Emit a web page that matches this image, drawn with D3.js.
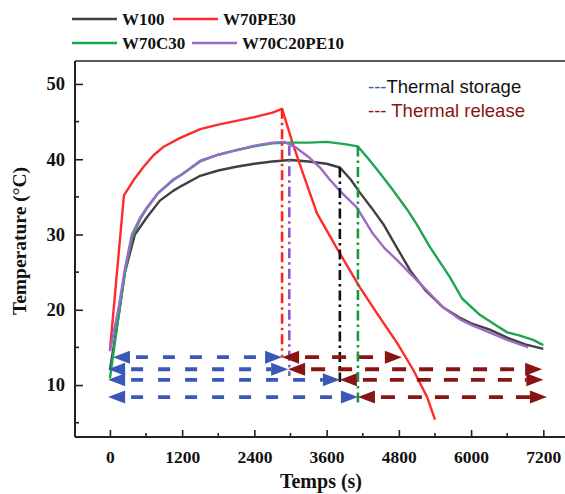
<!DOCTYPE html>
<html><head><meta charset="utf-8">
<script src="https://cdn.jsdelivr.net/npm/d3@7"></script>
<style>body{margin:0;background:#fff}svg{display:block}</style>
</head><body>
<script>
// ---- data ----
const seriesNames = ["W100", "W70PE30", "W70C30", "W70C20PE10"];
const seriesColors = ["#404040", "#ff2a2a", "#1fa552", "#9a6cc8"];
const w100 = [[0,12.0],[150,19.5],[250,25],[415,30],[615,32.3],[830,34.5],[1050,35.8],[1200,36.5],[1500,37.8],[1800,38.5],[2100,39.0],[2400,39.4],[2700,39.7],[3000,39.9],[3300,39.7],[3600,39.4],[3820,38.9],[4000,37.3],[4150,35.6],[4350,33.5],[4540,31.4],[4750,28.5],[4990,25.2],[5250,22.5],[5540,20.3],[5800,19.0],[6000,18.2],[6300,17.4],[6600,16.3],[6900,15.4],[7200,14.8]];
const w70pe30 = [[0,14.6],[233,35.2],[400,37.3],[560,39.0],[720,40.5],[900,41.7],[1160,42.8],[1500,44.0],[1800,44.6],[2100,45.1],[2400,45.6],[2700,46.2],[2860,46.7],[3040,42.0],[3200,38.3],[3440,32.8],[3790,27.9],[4150,23.0],[4440,19.5],[4770,15.6],[5040,12.0],[5270,8.4],[5400,5.4]];
const w70c30 = [[0,10.9],[150,19.5],[250,25],[365,29.5],[500,32],[615,33.5],[800,35.5],[1050,37.3],[1200,38.0],[1500,39.7],[1800,40.6],[2100,41.2],[2400,41.7],[2700,42.1],[3000,42.2],[3300,42.2],[3600,42.3],[3900,42.0],[4120,41.7],[4300,40.0],[4490,38.1],[4700,35.9],[4940,33.3],[5100,31.3],[5320,28.3],[5650,24.3],[5850,21.5],[6150,19.3],[6400,18.0],[6600,17.0],[6800,16.6],[7030,16.0],[7200,15.3]];
const w70c20pe10 = [[0,14.5],[150,20.5],[250,25.5],[365,30],[500,32.2],[615,33.6],[800,35.5],[1050,37.2],[1200,38.0],[1500,39.8],[1800,40.6],[2100,41.2],[2400,41.8],[2700,42.2],[2900,42.3],[3100,41.5],[3300,40.3],[3490,38.9],[3650,37.3],[3820,35.8],[4100,33.6],[4370,30.1],[4560,28.2],[4770,26.6],[5100,23.9],[5540,20.3],[5800,18.8],[6000,18.0],[6300,17.0],[6600,16.0],[6950,15.0]];
const seriesData = [w100, w70pe30, w70c30, w70c20pe10];
// vertical dash-dot markers: time, top temperature, bottom temperature
const markerTimes = [2860, 2980, 3820, 4120];
const markerTops = [46.7, 41.8, 38.9, 41.7];
const markerBottoms = [13.7, 11.2, 10.4, 7.2];
// storage / release arrows: level, start, switch, end
const arrowLevels = [13.7, 12.1, 10.7, 8.4];
const arrowStarts = [50, -30, -30, -30];
const arrowSwitch = [2860, 2960, 3820, 4120];
const arrowEnds = [4850, 7180, 7200, 7260];
const xTicks = [0, 1200, 2400, 3600, 4800, 6000, 7200];
const yTicks = [10, 20, 30, 40, 50];

// ---- drawing ----
const W = 565, H = 494;
const svg = d3.select("body").append("svg").attr("width", W).attr("height", H);
const x = d3.scaleLinear().domain([-580, 7560]).range([75, 565]);
const y = d3.scaleLinear().domain([3.1, 53.05]).range([437, 61]);
const serif = "'Liberation Serif','Times New Roman',serif";
const sans = "'Liberation Sans',Arial,sans-serif";
const blue = "#3b57b8", dred = "#8a1414";

// frame
svg.append("line").attr("x1",75).attr("x2",565).attr("y1",61).attr("y2",61).attr("stroke","#222").attr("stroke-width",1.5);

// axes
const xAxis = d3.axisBottom(x).tickValues(xTicks).tickFormat(d3.format("d")).tickSizeInner(-7).tickSizeOuter(0).tickPadding(14);
const gx = svg.append("g").attr("transform","translate(0,437)").call(xAxis);
const yAxis = d3.axisLeft(y).tickValues(yTicks).tickFormat(d3.format("d")).tickSizeInner(-8).tickSizeOuter(0).tickPadding(10);
const gy = svg.append("g").attr("transform","translate(75,0)").call(yAxis);
[gx, gy].forEach(g => {
  g.select(".domain").attr("stroke","#222").attr("stroke-width",2);
  g.selectAll(".tick line").attr("stroke","#222").attr("stroke-width",1.6);
  g.selectAll(".tick text").attr("font-family",serif).attr("font-weight","bold").attr("font-size",17.5).attr("fill","#111");
});
gy.selectAll(".tick text").attr("font-size",18.5);
gx.select(".domain").attr("d","M75,0H565");
gy.select(".domain").attr("d","M0,437V61");
// minor ticks
const xMinor = d3.range(600, 7600, 1200);
svg.append("g").selectAll("line").data(xMinor).join("line")
  .attr("x1",d=>x(d)).attr("x2",d=>x(d)).attr("y1",437).attr("y2",433).attr("stroke","#222").attr("stroke-width",1.6);
const yMinor = [5, 15, 25, 35, 45];
svg.append("g").selectAll("line").data(yMinor).join("line")
  .attr("x1",75).attr("x2",79).attr("y1",d=>y(d)).attr("y2",d=>y(d)).attr("stroke","#222").attr("stroke-width",1.6);

// axis titles
svg.append("text").attr("x",321).attr("y",488).attr("text-anchor","middle")
  .attr("font-family",serif).attr("font-weight","bold").attr("font-size",20).attr("fill","#111").text("Temps (s)");
svg.append("text").attr("transform","translate(26,241) rotate(-90)").attr("text-anchor","middle")
  .attr("font-family",serif).attr("font-weight","bold").attr("font-size",19.5).attr("fill","#111").text("Temperature (°C)");

// curves
const line = d3.line().x(d=>x(d[0])).y(d=>y(d[1]));
seriesData.forEach((s,i)=>{
  svg.append("path").datum(s).attr("d",line).attr("fill","none")
    .attr("stroke",seriesColors[i]).attr("stroke-width",2.4).attr("stroke-linejoin","round");
});

// vertical dash-dot markers
const vColors = ["#ff2020", "#8a5cc0", "#111111", "#159a3c"];
markerTimes.forEach((t,i)=>{
  svg.append("line").attr("x1",x(t)).attr("x2",x(t)).attr("y1",y(markerTops[i])).attr("y2",y(markerBottoms[i]))
    .attr("stroke",vColors[i]).attr("stroke-width",2.6).attr("stroke-dasharray","10,4,2.5,4");
});

// arrows
function head(xt, yy, dir, color){ // dir -1 points left, +1 points right
  const L = 17, hh = 6.5;
  svg.append("path").attr("d",`M${xt},${yy}L${xt-dir*L},${yy-hh}L${xt-dir*L},${yy+hh}Z`).attr("fill",color);
}
arrowLevels.forEach((lv,i)=>{
  const yy = y(lv), xa = x(arrowStarts[i]), xm = x(arrowSwitch[i]), xe = x(arrowEnds[i]);
  svg.append("line").attr("x1",xa+17).attr("x2",xm-17).attr("y1",yy).attr("y2",yy)
    .attr("stroke",blue).attr("stroke-width",3.8).attr("stroke-dasharray","12,15").attr("stroke-dashoffset",-6);
  svg.append("line").attr("x1",xm+17).attr("x2",xe-17).attr("y1",yy).attr("y2",yy)
    .attr("stroke",dred).attr("stroke-width",3.8).attr("stroke-dasharray","14,13").attr("stroke-dashoffset",-6);
  head(xa, yy, -1, blue);
  head(xm, yy, 1, blue);
  head(xm, yy, -1, dred);
  head(xe, yy, 1, dred);
});

// annotation
const t1 = svg.append("text").attr("x",368).attr("y",93).attr("font-family",sans).attr("font-size",18.5);
t1.append("tspan").attr("fill",blue).text("---");
t1.append("tspan").attr("fill","#111").text("Thermal storage");
svg.append("text").attr("x",368).attr("y",117).attr("font-family",sans).attr("font-size",18.5)
  .attr("fill",dred).text("--- Thermal release");

// legend
const legRows = [[0,1],[2,3]];
const legY = [19, 43];
const legX = [[72,173],[72,192]];
legRows.forEach((row,r)=>{
  row.forEach((si,k)=>{
    const lx = legX[r][k];
    svg.append("line").attr("x1",lx).attr("x2",lx+45).attr("y1",legY[r]).attr("y2",legY[r])
      .attr("stroke",seriesColors[si]).attr("stroke-width",2.5);
    svg.append("text").attr("x",lx+50).attr("y",legY[r]+6).attr("font-family",serif).attr("font-weight","bold")
      .attr("font-size",17).attr("fill","#111").text(seriesNames[si]);
  });
});
</script>
</body></html>
